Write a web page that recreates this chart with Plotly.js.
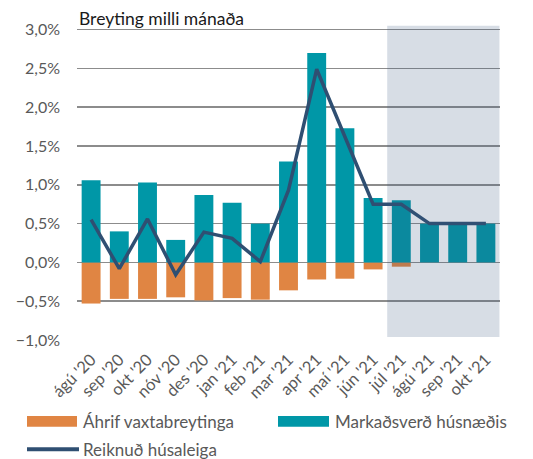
<!DOCTYPE html>
<html>
<head>
<meta charset="utf-8">
<script src="https://cdn.plot.ly/plotly-3.0.1.min.js"></script>
<style>html,body{margin:0;padding:0;background:#fff;}#chart{width:533px;height:459px;}</style>
</head>
<body>
<div id="chart"></div>
<script>
const categories = ["ágú '20","sep '20","okt '20","nóv '20","des '20","jan '21","feb '21","mar '21","apr '21","maí '21","jún '21","júl '21","ágú '21","sep '21","okt '21"];
const markadsverd = [1.06, 0.40, 1.03, 0.29, 0.87, 0.77, 0.50, 1.30, 2.70, 1.73, 0.83, 0.80, 0.50, 0.50, 0.50];
const ahrifVaxta = [-0.53, -0.47, -0.47, -0.45, -0.49, -0.46, -0.48, -0.36, -0.22, -0.21, -0.09, -0.055, 0, 0, 0];
const reiknud = [0.55, -0.08, 0.56, -0.16, 0.39, 0.31, 0.01, 0.93, 2.49, 1.63, 0.75, 0.75, 0.50, 0.50, 0.50];
const seriesNames = ["Áhrif vaxtabreytinga", "Markaðsverð húsnæðis", "Reiknuð húsaleiga"];
const chartTitle = "Breyting milli mánaða";
const forecastStart = "júl '21";

const FONT = "Lato, 'Liberation Sans', sans-serif";
const ORANGE = "#E08543";
const TEAL = "#0097A7";
const NAVY = "#2F4F72";
const idx = (c) => categories.indexOf(c);

const traces = [
  {type:'bar', x:categories.map((c,i)=>i), y:ahrifVaxta, name:seriesNames[0], marker:{color:ORANGE}, showlegend:false, hoverinfo:'skip'},
  {type:'bar', x:categories.map((c,i)=>i), y:markadsverd, name:seriesNames[1], marker:{color:TEAL}, showlegend:false, hoverinfo:'skip'},
  {type:'scatter', mode:'lines', x:categories.map((c,i)=>i), y:reiknud, name:seriesNames[2], line:{color:NAVY, width:3.5}, showlegend:false, hoverinfo:'skip'}
];

const plotL = 77, plotR = 500, plotT = 24.5, plotB = 340;
const pw = plotR - plotL, ph = plotB - plotT;
const px = (x) => (x - plotL) / pw;
const py = (y) => (plotB - y) / ph;

const layout = {
  width:533, height:459,
  margin:{l:plotL, r:533-plotR, t:plotT, b:459-plotB, pad:0},
  paper_bgcolor:'#fff', plot_bgcolor:'#fff',
  separators:', ',
  barmode:'relative', bargap:0.33,
  font:{family:FONT, color:'#595959', size:14},
  xaxis:{
    range:[-0.5, categories.length-0.5],
    tickmode:'array', tickvals:categories.map((c,i)=>i), ticktext:categories,
    tickangle:-45, tickfont:{size:16.5, color:'#595959', family:FONT},
    showgrid:false, zeroline:false, showline:false, ticks:'', ticklabelstandoff:6, fixedrange:true
  },
  yaxis:{
    range:[-1.0, 3.06], dtick:0.5, tick0:0, tickformat:'.1f', ticksuffix:'%',
    tickfont:{size:16, color:'#595959', family:FONT},
    showgrid:true, gridcolor:'#8C8C8C', gridwidth:1.5,
    zeroline:true, zerolinecolor:'#8C8C8C', zerolinewidth:1.5,
    showline:false, ticks:'', ticklabelstandoff:16, fixedrange:true
  },
  shapes:[
    {type:'rect', xref:'x', yref:'y', x0:idx(forecastStart)-0.5, x1:categories.length-0.52, y0:-0.96, y1:3.05,
     fillcolor:'rgba(54,84,124,0.2)', line:{width:0}, layer:'above'},
    {type:'rect', xref:'paper', yref:'paper', x0:px(27), x1:px(77), y0:py(427), y1:py(416), fillcolor:ORANGE, line:{width:0}},
    {type:'rect', xref:'paper', yref:'paper', x0:px(278), x1:px(329), y0:py(427), y1:py(416), fillcolor:TEAL, line:{width:0}},
    {type:'line', xref:'paper', yref:'paper', x0:px(27), x1:px(79), y0:py(449.5), y1:py(449.5), line:{color:NAVY, width:4}}
  ],
  annotations:[
    {text:chartTitle, xref:'paper', yref:'paper', x:px(77), y:py(18), xanchor:'left', yanchor:'middle', showarrow:false, font:{size:17.5, color:'#1a1a1a', family:FONT}},
    {text:seriesNames[0], xref:'paper', yref:'paper', x:px(81), y:py(421.5), xanchor:'left', yanchor:'middle', showarrow:false, font:{size:17, color:'#595959', family:FONT}},
    {text:seriesNames[1], xref:'paper', yref:'paper', x:px(333), y:py(421.5), xanchor:'left', yanchor:'middle', showarrow:false, font:{size:17, color:'#595959', family:FONT}},
    {text:seriesNames[2], xref:'paper', yref:'paper', x:px(81), y:py(449.5), xanchor:'left', yanchor:'middle', showarrow:false, font:{size:17, color:'#595959', family:FONT}}
  ]
};

Plotly.newPlot('chart', traces, layout, {staticPlot:true, displayModeBar:false});
</script>
</body>
</html>
